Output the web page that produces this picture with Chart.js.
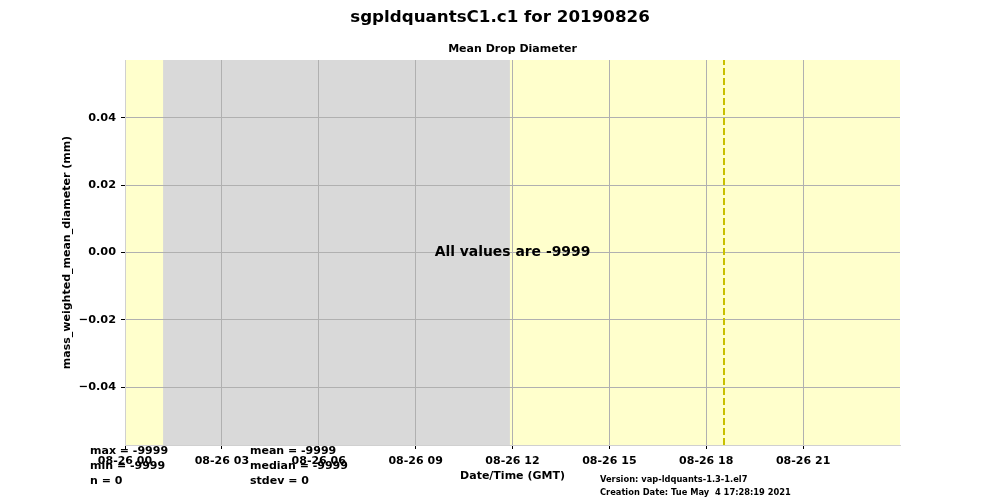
<!DOCTYPE html>
<html>
<head>
<meta charset="utf-8">
<script src="https://cdn.jsdelivr.net/npm/chart.js@4"></script>
<style>
  body{ margin:0; background:#fff; }
  #wrap{ position:relative; width:1000px; height:500px; font-family:"DejaVu Sans", sans-serif; font-weight:bold; }
  #wrap canvas{ position:absolute; left:0; top:0; }
  .txt{ position:absolute; white-space:pre; color:#000; line-height:1; }
</style>
</head>
<body>
<div id="wrap">
  <canvas id="chart" width="1000" height="500"></canvas>
  <div class="txt" style="left:0;width:1000px;text-align:center;top:8px;font-size:16.7px;">sgpldquantsC1.c1 for 20190826</div>
  <div class="txt" style="left:125px;width:775px;text-align:center;top:43px;font-size:11px;">Mean Drop Diameter</div>
  <div class="txt" style="left:125px;width:775px;text-align:center;top:245px;font-size:13.9px;">All values are -9999</div>
  <div class="txt" style="left:90px;top:445px;font-size:11px;">max = -9999</div>
  <div class="txt" style="left:90px;top:460px;font-size:11px;">min = -9999</div>
  <div class="txt" style="left:90px;top:475px;font-size:11px;">n = 0</div>
  <div class="txt" style="left:250px;top:445px;font-size:11px;">mean = -9999</div>
  <div class="txt" style="left:250px;top:460px;font-size:11px;">median = -9999</div>
  <div class="txt" style="left:250px;top:475px;font-size:11px;">stdev = 0</div>
  <div class="txt" style="left:600px;top:475px;font-size:8.3px;">Version: vap-ldquants-1.3-1.el7</div>
  <div class="txt" style="left:600px;top:488px;font-size:8.3px;">Creation Date: Tue May  4 17:28:19 2021</div>
</div>
<script>
// hours since 2019-08-26 00:00 GMT
const tick_hours = [0, 3, 6, 9, 12, 15, 18, 21];
const tick_labels = ["08-26 00", "08-26 03", "08-26 06", "08-26 09", "08-26 12", "08-26 15", "08-26 18", "08-26 21"];
const y_ticks = [-0.04, -0.02, 0.00, 0.02, 0.04];
const missing_start = [1.18];   // grey (missing data) span
const missing_end = [11.92];
const marker_hour = [18.55];    // dashed vertical marker
const y_limit = [-0.0572, 0.0572];

const bgPlugin = {
    id: "bgShade",
    beforeDraw: function(chart){
        const ctx = chart.ctx;
        const a = chart.chartArea;
        const xs = chart.scales.x;
        ctx.save();
        ctx.fillStyle = "#ffffcc";
        ctx.fillRect(a.left, a.top, a.right - a.left, a.bottom - a.top);
        ctx.fillStyle = "#d9d9d9";
        for(let i in missing_start){
            const x0 = xs.getPixelForValue(missing_start[i]);
            const x1 = xs.getPixelForValue(missing_end[i]);
            ctx.fillRect(x0, a.top, x1 - x0, a.bottom - a.top);
        }
        ctx.restore();
    }
};

new Chart(document.getElementById("chart").getContext("2d"), {
    type: "line",
    data: {
        datasets: [{
            label: "marker",
            data: [{x: marker_hour[0], y: y_limit[0]}, {x: marker_hour[0], y: y_limit[1]}],
            borderColor: "#c8c000",
            borderWidth: 2,
            borderDash: [7, 3],
            pointRadius: 0
        }]
    },
    options: {
        responsive: false,
        animation: false,
        layout: { padding: { left: 58, right: 100, top: 60, bottom: 0 } },
        plugins: { legend: { display: false }, tooltip: { enabled: false } },
        scales: {
            x: {
                type: "linear",
                min: 0,
                max: 24,
                afterBuildTicks: function(scale){
                    scale.ticks = tick_hours.map(function(h){ return {value: h}; });
                },
                afterFit: function(scale){ scale.height = 55; },
                ticks: {
                    color: "#000",
                    font: { family: "DejaVu Sans", size: 11, weight: "bold" },
                    padding: 6,
                    maxRotation: 0,
                    autoSkip: false,
                    callback: function(v){
                        const i = tick_hours.indexOf(v);
                        return i >= 0 ? tick_labels[i] : "";
                    }
                },
                grid: { color: "#b0b0b0", tickColor: "#000", tickLength: 4, lineWidth: 1 },
                border: { color: "#d0d0d0" },
                title: {
                    display: true,
                    text: "Date/Time (GMT)",
                    color: "#000",
                    font: { family: "DejaVu Sans", size: 11, weight: "bold" },
                    padding: { top: 0, bottom: 17 }
                }
            },
            y: {
                type: "linear",
                min: y_limit[0],
                max: y_limit[1],
                afterBuildTicks: function(scale){
                    scale.ticks = y_ticks.map(function(v){ return {value: v}; });
                },
                afterFit: function(scale){ scale.width = 67; },
                ticks: {
                    color: "#000",
                    font: { family: "DejaVu Sans", size: 11.3, weight: "bold" },
                    padding: 5,
                    callback: function(v){
                        const s = Math.abs(v).toFixed(2);
                        return v < -1e-9 ? "\u2212" + s : s;
                    }
                },
                grid: { color: "#b0b0b0", tickColor: "#000", tickLength: 4, lineWidth: 1 },
                border: { color: "#d0d0d0" },
                title: {
                    display: true,
                    text: "mass_weighted_mean_diameter (mm)",
                    color: "#000",
                    font: { family: "DejaVu Sans", size: 11, weight: "bold" },
                    padding: { top: 3, bottom: 0 }
                }
            }
        }
    },
    plugins: [bgPlugin]
});
</script>
</body>
</html>
